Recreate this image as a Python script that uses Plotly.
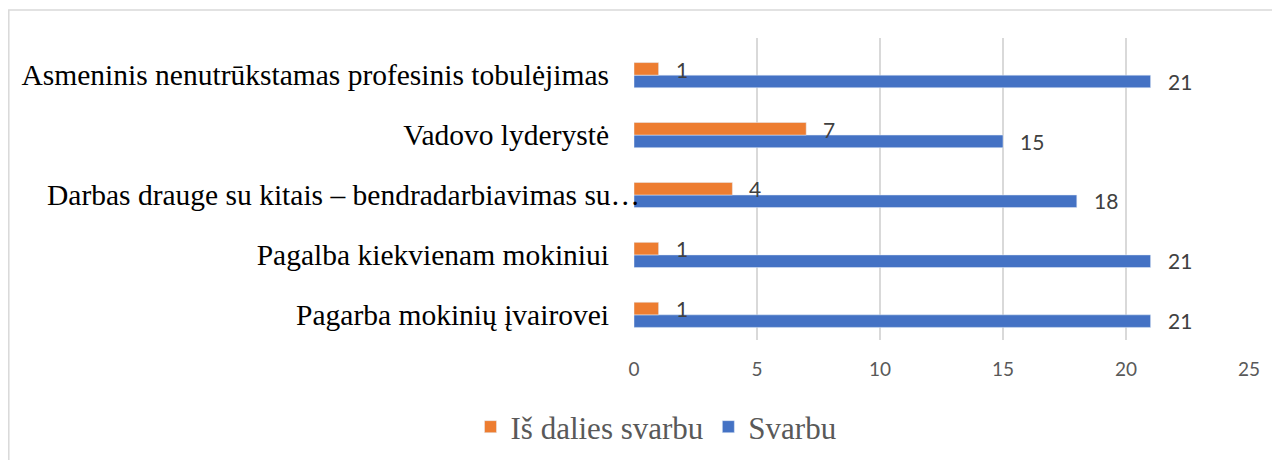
import plotly.graph_objects as go

categories = [
    "Pagarba mokinių įvairovei",
    "Pagalba kiekvienam mokiniui",
    "Darbas drauge su kitais – bendradarbiavimas su…",
    "Vadovo lyderystė",
    "Asmeninis nenutrūkstamas profesinis tobulėjimas",
]
svarbu = [21, 21, 18, 15, 21]
is_dalies = [1, 1, 4, 7, 1]
x_ticks = [0, 5, 10, 15, 20, 25]

BLUE = "#4472C4"
ORANGE = "#ED7D31"

fig = go.Figure()
fig.add_trace(go.Bar(y=categories, x=svarbu, orientation="h", name="Svarbu",
                     marker=dict(color=BLUE), legendrank=2))
fig.add_trace(go.Bar(y=categories, x=is_dalies, orientation="h", name="Iš dalies svarbu",
                     marker=dict(color=ORANGE), legendrank=1))

OFF = 8  # page body margin
L, R, T, B = 634 - OFF, 31, 38 - OFF, 120
W, H = 1280 - OFF, 460 - OFF
pw = W - L - R
ph = H - T - B

def px_x(p):
    return (p - OFF - L) / pw

def px_y(p):
    return (H - B - (p - OFF)) / ph

ann = []
for c, v in zip(categories, svarbu):
    ann.append(dict(x=v, y=c, text=str(v), showarrow=False, xanchor="left", yanchor="middle",
                    xshift=15, yshift=-6, font=dict(family="Lato", size=21, color="#404040")))
for c, v in zip(categories, is_dalies):
    ann.append(dict(x=v, y=c, text=str(v), showarrow=False, xanchor="left", yanchor="middle",
                    xshift=15, yshift=6, font=dict(family="Lato", size=21, color="#404040")))

# long category label, truncated and overlapping the axis as in the original
long_label = categories[2]
ticktext = [c if c != long_label else "" for c in categories]
ann.append(dict(xref="paper", x=px_x(642), y=long_label, text=long_label, showarrow=False,
                xanchor="right", yanchor="middle",
                font=dict(family="Liberation Serif", size=29.5, color="#000000")))

shapes = [dict(type="rect", xref="paper", yref="paper",
               x0=px_x(8.8), x1=px_x(1300), y0=px_y(480), y1=px_y(10),
               line=dict(color="#d9d9d9", width=1.5), layer="below")]

fig.update_layout(
    width=W, height=H,
    margin=dict(l=L, r=R, t=T, b=B, autoexpand=False),
    paper_bgcolor="white", plot_bgcolor="white",
    barmode="group", bargap=0.58, bargroupgap=0,
    showlegend=True,
    legend=dict(orientation="h", x=px_x(656), xanchor="center", y=px_y(400), yanchor="top",
                font=dict(family="Liberation Serif", size=31, color="#595959"),
                itemwidth=30),
    annotations=ann,
    shapes=shapes,
    xaxis=dict(range=[0, 25], tickvals=x_ticks, showgrid=True, gridcolor="#d9d9d9", gridwidth=1.5,
               zeroline=False, showline=False,
               tickfont=dict(family="Lato", size=19, color="#595959"), ticklabelstandoff=16),
    yaxis=dict(range=[-0.42, 4.62], categoryorder="array", categoryarray=categories,
               tickvals=categories, ticktext=ticktext,
               showgrid=False, zeroline=False, showline=False,
               tickfont=dict(family="Liberation Serif", size=29.5, color="#000000"),
               ticklabelstandoff=24),
)

fig.write_html("out.html")
